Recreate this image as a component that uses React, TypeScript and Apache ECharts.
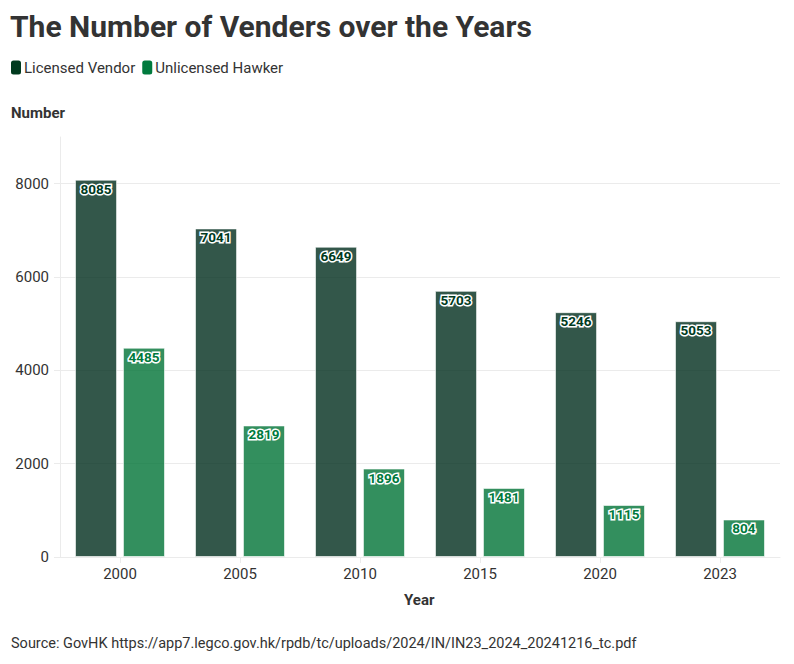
import React, { useEffect, useRef } from "react";
import * as echarts from "echarts";

const years = ["2000", "2005", "2010", "2015", "2020", "2023"];
const licensedVendor = [8085, 7041, 6649, 5703, 5246, 5053];
const unlicensedHawker = [4485, 2819, 1896, 1481, 1115, 804];
const seriesNames = ["Licensed Vendor", "Unlicensed Hawker"];

const FONT = "Roboto";
const DARK = "#003a1e";
const GREEN = "#007a3d";
const DARK_BAR = "rgba(0,45,29,0.8)";
const GREEN_BAR = "rgba(0,115,54,0.8)";

export default function App() {
  const ref = useRef<HTMLDivElement>(null);
  useEffect(() => {
    document.body.style.margin = "0";
    const chart = echarts.init(ref.current!, null, { renderer: "svg" });
    const grid = "#ebebeb";
    const labelCommon = {
      show: true,
      position: "insideTop",
      distance: 2,
      fontFamily: FONT,
      fontSize: 13.5,
      fontWeight: "bold",
      textBorderColor: "#ffffff",
      textBorderWidth: 3,
    };
    chart.setOption({
      animation: false,
      textStyle: { fontFamily: FONT },
      title: {
        text: "The Number of Venders over the Years",
        left: 10,
        top: 11,
        padding: 0,
        textStyle: { fontFamily: FONT, fontSize: 30, fontWeight: "bold", color: "#333333" },
      },
      legend: {
        left: 11,
        top: 60,
        padding: 0,
        itemWidth: 10,
        itemHeight: 14,
        itemGap: 7,
        icon: "roundRect",
        textStyle: { fontFamily: FONT, fontSize: 15, color: "#333333", padding: [0, 0, 0, -2] },
        data: [
          { name: seriesNames[0], itemStyle: { color: DARK, borderWidth: 0 } },
          { name: seriesNames[1], itemStyle: { color: GREEN, borderWidth: 0 } },
        ],
      },
      grid: { left: 60, right: 14, top: 137, bottom: 107 },
      xAxis: {
        type: "category",
        data: years,
        axisLine: { lineStyle: { color: grid } },
        axisTick: { show: true, alignWithLabel: true, length: 6, lineStyle: { color: grid } },
        axisLabel: { fontFamily: FONT, fontSize: 15, color: "#333333", margin: 9 },
      },
      yAxis: {
        type: "value",
        min: 0,
        max: 9000,
        interval: 2000,
        axisLine: { show: true, lineStyle: { color: grid } },
        axisTick: { show: true, length: 6, lineStyle: { color: grid } },
        axisLabel: {
          fontFamily: FONT,
          fontSize: 15,
          color: "#333333",
          margin: 11,
          showMaxLabel: false,
          formatter: (v: number) => String(v),
        },
        splitLine: {
          lineStyle: { color: [grid, grid, grid, grid, grid, "rgba(0,0,0,0)"] },
        },
      },
      graphic: [
        {
          type: "text",
          left: 11,
          top: 105,
          style: { text: "Number", fontFamily: FONT, fontSize: 15, fontWeight: "bold", fill: "#333333" },
        },
        {
          type: "text",
          left: 404,
          top: 592,
          style: { text: "Year", fontFamily: FONT, fontSize: 15, fontWeight: "bold", fill: "#333333" },
        },
        {
          type: "text",
          left: 11,
          top: 636,
          style: {
            text: "Source: GovHK https://app7.legco.gov.hk/rpdb/tc/uploads/2024/IN/IN23_2024_20241216_tc.pdf",
            fontFamily: FONT,
            fontSize: 14.5,
            fill: "#333333",
          },
        },
      ],
      series: [
        {
          name: seriesNames[0],
          type: "bar",
          data: licensedVendor,
          barCategoryGap: "25%",
          barGap: "14%",
          itemStyle: { color: DARK_BAR, borderColor: "rgba(255,255,255,0.6)", borderWidth: 1 },
          label: { ...labelCommon, color: DARK },
        },
        {
          name: seriesNames[1],
          type: "bar",
          data: unlicensedHawker,
          itemStyle: { color: GREEN_BAR, borderColor: "rgba(255,255,255,0.6)", borderWidth: 1 },
          label: { ...labelCommon, color: GREEN },
        },
      ],
    });
    return () => chart.dispose();
  }, []);
  return <div ref={ref} style={{ width: 794, height: 664 }} />;
}
